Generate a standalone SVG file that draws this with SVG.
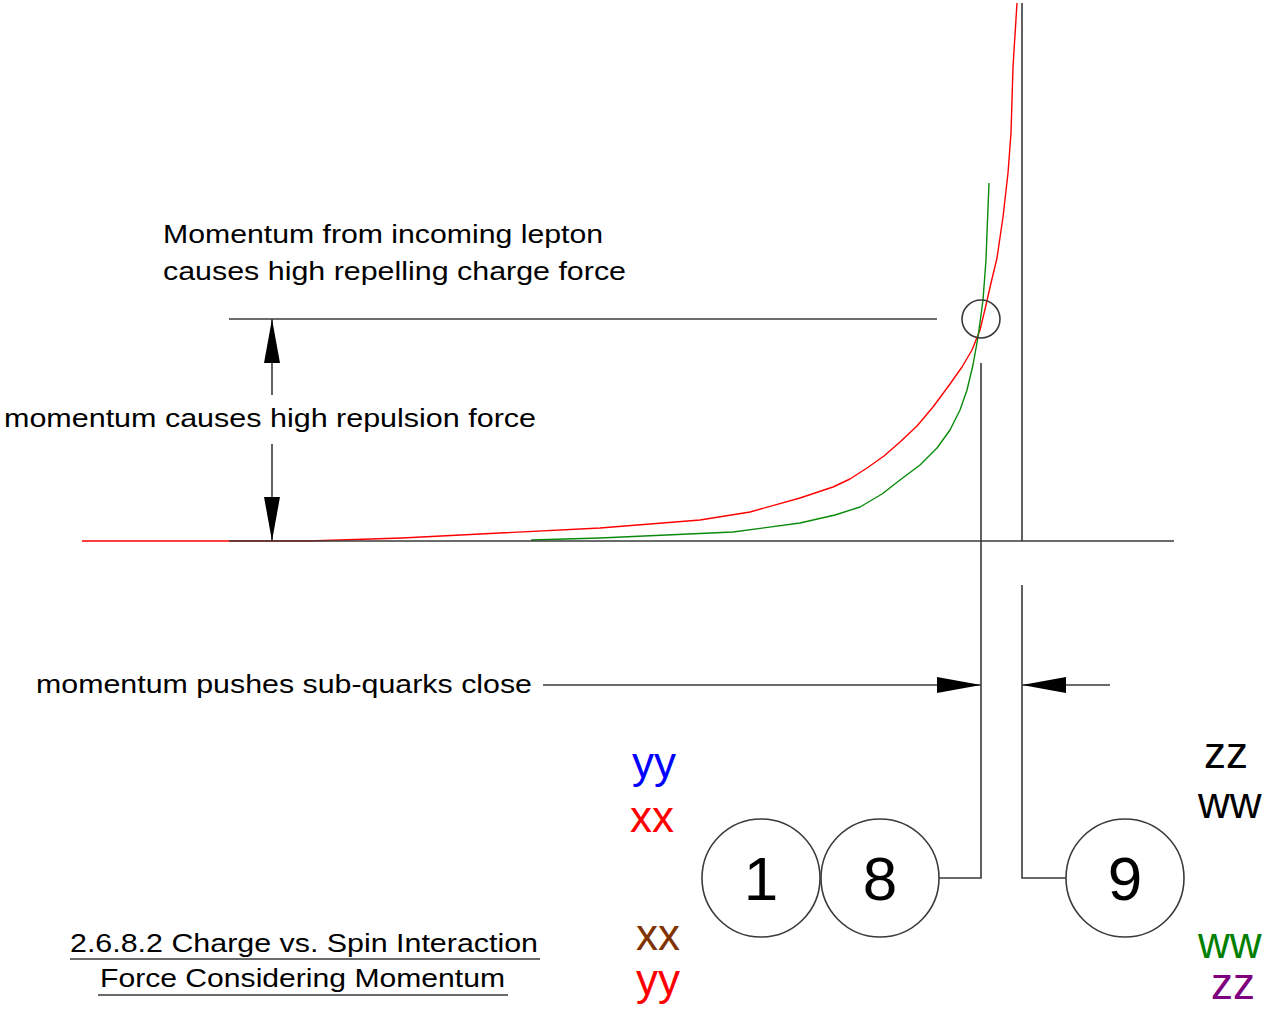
<svg xmlns="http://www.w3.org/2000/svg" width="1265" height="1009" viewBox="0 0 1265 1009">
<style>
.ln{stroke:#3a3a3a;stroke-width:1.6;fill:none}
.cv{fill:none;stroke-width:1.4;stroke-linejoin:round}
.lbl{font-family:"Liberation Sans",Arial,sans-serif;font-size:25px;fill:#000}
.big{font-family:"Liberation Sans",Arial,sans-serif;font-size:44px}
.num{font-family:"Liberation Sans",Arial,sans-serif;font-size:62px;fill:#000;text-anchor:middle}
.nd{fill:#fff;stroke:#3a3a3a;stroke-width:1.6}
</style>
<defs>
<marker id="ah" viewBox="0 0 44 16" refX="44" refY="8" markerWidth="44" markerHeight="16" orient="auto" markerUnits="userSpaceOnUse">
<path d="M0,0 L44,8 L0,16 Z" fill="#000"/>
</marker>
</defs>
<rect width="1265" height="1009" fill="#fff"/>
<g id="curves">
<path class="cv" stroke="#ff0000" d="M82,541 L308,541 L402,538 L500,533 L600,528 L700,520 L750,512 L800,498 L833,487 L850,479 L867,468 L884,456 L900,442 L917,426 L933,407 L950,384 L962,367 L972,350 L980,330 L986,305 L991,283 L997,258 L1003,217 L1008,173 L1011,133 L1013,67 L1017,3"/>
<path class="cv" stroke="#0a8a0a" d="M531,540 L600,538 L733,532 L800,523 L835,515 L860,507 L882,494 L900,480 L920,465 L937,448 L950,430 L960,410 L967,390 L973,365 L978,337 L983,300 L986,260 L987,233 L989,183"/>
</g>
<g id="connectors">
<line class="ln" x1="229" y1="541" x2="1174" y2="541"/>
<line class="ln" x1="1022" y1="3" x2="1022" y2="541"/>
<line class="ln" x1="229" y1="319" x2="937" y2="319"/>
<circle class="ln" cx="981" cy="319" r="19"/>
<line class="ln" x1="272" y1="395" x2="272" y2="319" marker-end="url(#ah)"/>
<line class="ln" x1="272" y1="444" x2="272" y2="541" marker-end="url(#ah)"/>
<line class="ln" x1="543" y1="685" x2="981" y2="685" marker-end="url(#ah)"/>
<line class="ln" x1="1110" y1="685" x2="1022" y2="685" marker-end="url(#ah)"/>
<polyline class="ln" points="981,363 981,878 939,878"/>
<polyline class="ln" points="1022,585 1022,878 1066,878"/>
</g>
<g id="node-1">
<circle class="nd" cx="761" cy="878" r="59"/>
<text class="num" x="761" y="900">1</text>
</g>
<g id="node-8">
<circle class="nd" cx="880" cy="878" r="59"/>
<text class="num" x="880" y="900">8</text>
</g>
<g id="node-9">
<circle class="nd" cx="1125" cy="878" r="59"/>
<text class="num" x="1125" y="900">9</text>
</g>
<g id="labels">
<text class="lbl" x="163" y="243" textLength="440" lengthAdjust="spacingAndGlyphs">Momentum from incoming lepton</text>
<text class="lbl" x="163" y="280" textLength="463" lengthAdjust="spacingAndGlyphs">causes high repelling charge force</text>
<text class="lbl" x="4" y="427" textLength="532" lengthAdjust="spacingAndGlyphs">momentum causes high repulsion force</text>
<text class="lbl" x="36" y="693" textLength="496" lengthAdjust="spacingAndGlyphs">momentum pushes sub-quarks close</text>
<text class="lbl" x="70" y="952" textLength="468" lengthAdjust="spacingAndGlyphs">2.6.8.2 Charge vs. Spin Interaction</text>
<line class="ln" x1="70" y1="959" x2="540" y2="959"/>
<text class="lbl" x="100" y="987" textLength="405" lengthAdjust="spacingAndGlyphs">Force Considering Momentum</text>
<line class="ln" x1="98" y1="995" x2="508" y2="995"/>
</g>
<g id="letters">
<text class="big" x="632" y="778" fill="#0000ff">yy</text>
<text class="big" x="630" y="832" fill="#ff0000">xx</text>
<text class="big" x="636" y="950" fill="#7f3300">xx</text>
<text class="big" x="636" y="995" fill="#ff0000">yy</text>
<text class="big" x="1204" y="768" fill="#000">zz</text>
<text class="big" x="1198" y="818" fill="#000">ww</text>
<text class="big" x="1198" y="958" fill="#007f00">ww</text>
<text class="big" x="1211" y="999" fill="#7f007f">zz</text>
</g>
</svg>
